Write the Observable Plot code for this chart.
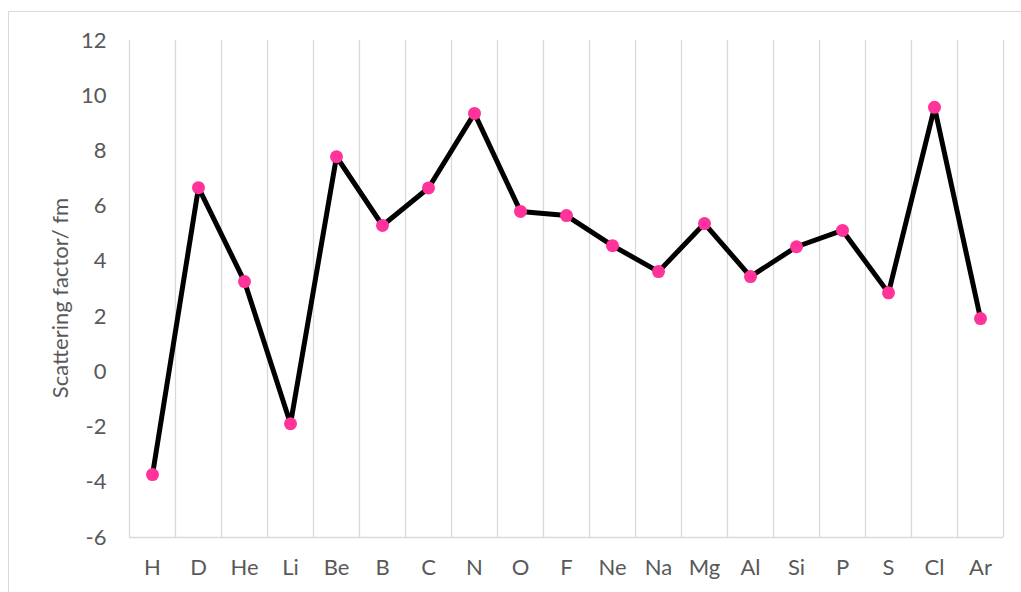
<!DOCTYPE html>
<html>
<head>
<meta charset="utf-8">
<script src="https://cdn.jsdelivr.net/npm/d3@7"></script>
<script src="https://cdn.jsdelivr.net/npm/@observablehq/plot@0.6"></script>
<style>
  html, body { margin: 0; padding: 0; background: #fff; overflow: hidden; }
  #wrap { position: relative; width: 1021px; height: 592px; }
  #frame { position: absolute; left: 8px; top: 11px; width: 1030px; height: 600px; border: 1px solid #d9d9d9; box-sizing: border-box; }
  #chart { position: absolute; left: 0; top: 0; }
</style>
</head>
<body>
<div id="wrap"><div id="frame"></div><div id="chart"></div></div>
<script>
const elements = ["H","D","He","Li","Be","B","C","N","O","F","Ne","Na","Mg","Al","Si","P","S","Cl","Ar"];
const scattering = [-3.72, 6.67, 3.27, -1.88, 7.79, 5.30, 6.66, 9.36, 5.81, 5.66, 4.57, 3.63, 5.37, 3.45, 4.53, 5.12, 2.86, 9.58, 1.93];
const yTicks = [-6, -4, -2, 0, 2, 4, 6, 8, 10, 12];

const data = elements.map((e, i) => ({el: e, i: i + 0.5, v: scattering[i]}));
const boundaries = d3.range(elements.length + 1);

const font = "Lato, 'Open Sans', sans-serif";
const chart = Plot.plot({
  width: 1021,
  height: 592,
  marginLeft: 129,
  marginRight: 18,
  marginTop: 40,
  marginBottom: 55,
  style: {fontFamily: font, color: "#595959", background: "transparent"},
  x: {domain: [0, elements.length], axis: null},
  y: {domain: [-6, 12], axis: null},
  marks: [
    Plot.ruleX(boundaries, {x: d => d, y1: -6, y2: 12, stroke: "#d9d9d9", strokeWidth: 1.3}),
    Plot.ruleY([-6], {stroke: "#d9d9d9", strokeWidth: 1.3}),
    Plot.axisY({ticks: yTicks, tickFormat: d => String(d), tickSize: 0, tickPadding: 23, fill: "#595959", fontSize: 22, label: null}),
    Plot.text(["Scattering factor/ fm"], {frameAnchor: "left", dx: -69, dy: 9, rotate: -90, text: d => d, fill: "#595959", fontSize: 22, textAnchor: "middle"}),
    Plot.axisX({ticks: data.map(d => d.i), tickFormat: (d) => elements[Math.floor(d)], tickSize: 0, tickPadding: 22, fill: "#595959", fontSize: 22, label: null}),
    Plot.line(data, {x: "i", y: "v", stroke: "black", strokeWidth: 5, strokeLinejoin: "miter", curve: "linear"}),
    Plot.dot(data, {x: "i", y: "v", r: 6.5, fill: "#ff3399", stroke: "none"})
  ]
});
document.getElementById("chart").appendChild(chart);
</script>
</body>
</html>
